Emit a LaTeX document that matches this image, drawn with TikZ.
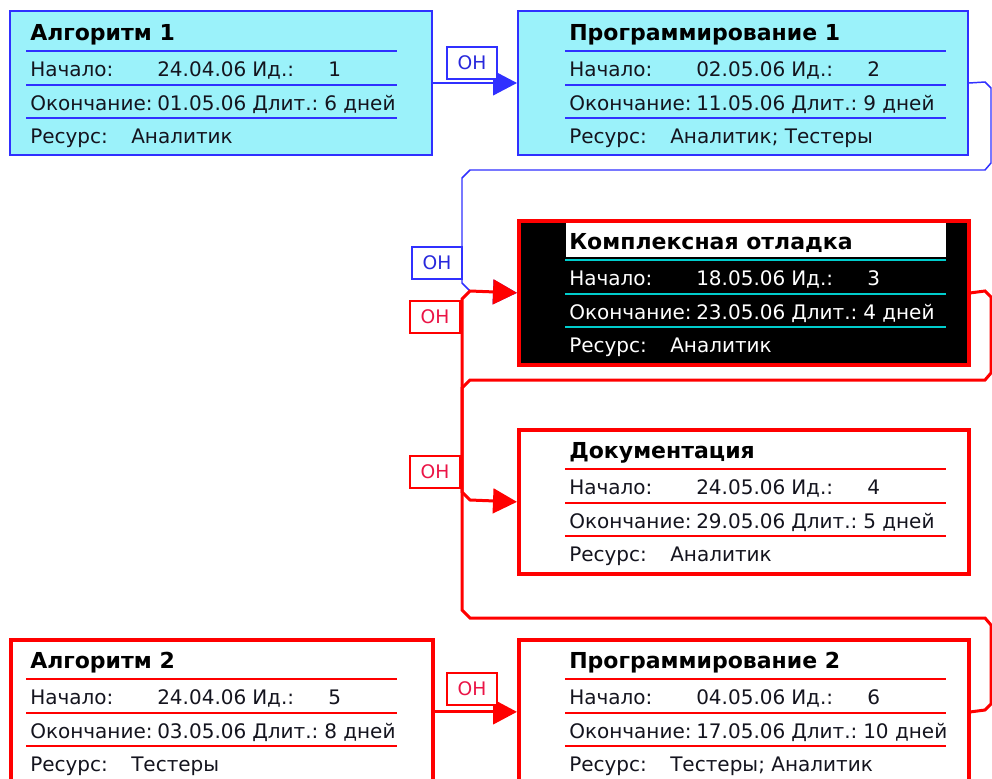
\documentclass[tikz,border=0pt]{standalone}
\usepackage{fontspec}
\setmainfont{DejaVu Sans}
\usetikzlibrary{arrows.meta}
\definecolor{pblue}{RGB}{48,48,255}
\definecolor{pred}{RGB}{255,0,0}
\definecolor{pcyan}{RGB}{155,242,250}
\definecolor{ptxt}{RGB}{20,20,30}
\definecolor{ohred}{RGB}{235,20,70}
\definecolor{ohblue}{RGB}{40,40,220}
\definecolor{lcyan}{RGB}{0,205,205}
\colorlet{rowtext}{ptxt}
\tikzset{
  taskL/.style={anchor=north west, inner sep=0pt, minimum width=422*0.75pt, minimum height=144*0.75pt},
  taskR/.style={anchor=north west, inner sep=0pt, minimum width=450*0.75pt, minimum height=144*0.75pt},
  bluebox/.style={draw=pblue, line width=1.5pt, fill=pcyan},
  redbox/.style={draw=pred, line width=2.8pt, fill=white},
  critbox/.style={draw=pred, line width=2.8pt, fill=black},
  titletext/.style={anchor=base west, inner sep=0pt, font=\fontsize{16.5}{19}\selectfont\bfseries, text=black},
  rowtxt/.style={anchor=base west, inner sep=0pt, font=\fontsize{15}{18}\selectfont, text=rowtext},
  sepline/.style={line width=1.5pt},
  ohlabel/.style={draw, fill=white, line width=1.1pt, minimum width=50*0.75pt, minimum height=32*0.75pt, inner sep=0pt, font=\fontsize{14}{17}\selectfont},
  bluelinkA/.style={draw=pblue, line width=1.5pt},
  bluelinkB/.style={draw=pblue, line width=1.1pt},
  redlink/.style={draw=pred, line width=2.25pt},
  tip/.style={-{Triangle[length=18pt,width=18.5pt]}},
}
% #1 name, #2 T (box top), #3 L (text left), #4 line right end, #5 line colour, #6 title
\newcommand\tdecor[6]{%
  \foreach \d in {41,75,108}{\draw[sepline,#5] (#3-4,#2+\d) -- (#4,#2+\d);}
  \node[titletext] (#1-t) at (#3,#2+30) {#6};
}
% #1 name, #2 L, #3 T, #4 start, #5 id, #6 end, #7 dur, #8 res
\newcommand\trows[8]{%
  \node[rowtxt] (#1-a1) at (#2,#3+66) {Начало:};
  \node[rowtxt] (#1-a2) at (#2+127,#3+66) {#4};
  \node[rowtxt] (#1-a3) at (#2+222,#3+66) {Ид.:};
  \node[rowtxt] (#1-a4) at (#2+298,#3+66) {#5};
  \node[rowtxt] (#1-b1) at (#2,#3+100) {Окончание:};
  \node[rowtxt] (#1-b2) at (#2+127,#3+100) {#6};
  \node[rowtxt] (#1-b3) at (#2+222,#3+100) {Длит.:};
  \node[rowtxt] (#1-b4) at (#2+294,#3+100) {#7};
  \node[rowtxt] (#1-c1) at (#2,#3+133) {Ресурс:};
  \node[rowtxt] (#1-c2) at (#2+101,#3+133) {#8};
}
\begin{document}
\begin{tikzpicture}[x=0.75pt,y=-0.75pt]
\path[use as bounding box] (0,0) rectangle (992,778);
\clip (0,0) rectangle (992,778);
\fill[white] (0,0) rectangle (992,778);

% task boxes
\node[taskL,bluebox] (b1) at (9,10) {};
\tdecor{b1}{10}{30}{397}{pblue}{Алгоритм 1}
\trows{b1}{30}{10}{24.04.06}{1}{01.05.06}{6 дней}{Аналитик}

\node[taskR,bluebox] (b2) at (517,10) {};
\tdecor{b2}{10}{569}{946}{pblue}{Программирование 1}
\trows{b2}{569}{10}{02.05.06}{2}{11.05.06}{9 дней}{Аналитик; Тестеры}

\node[taskR,critbox] (b3) at (517,219) {};
\node[fill=white, anchor=north west, inner sep=0pt, minimum width=380*0.75pt, minimum height=34*0.75pt] (b3-w) at (566,223) {};
\begingroup
\colorlet{rowtext}{white}
\tdecor{b3}{219}{569}{946}{lcyan}{Комплексная отладка}
\trows{b3}{569}{219}{18.05.06}{3}{23.05.06}{4 дней}{Аналитик}
\endgroup

\node[taskR,redbox] (b4) at (517,428) {};
\tdecor{b4}{428}{569}{946}{pred}{Документация}
\trows{b4}{569}{428}{24.05.06}{4}{29.05.06}{5 дней}{Аналитик}

\node[taskL,redbox] (b5) at (9,638) {};
\tdecor{b5}{638}{30}{397}{pred}{Алгоритм 2}
\trows{b5}{30}{638}{24.04.06}{5}{03.05.06}{8 дней}{Тестеры}

\node[taskR,redbox] (b6) at (517,638) {};
\tdecor{b6}{638}{569}{946}{pred}{Программирование 2}
\trows{b6}{569}{638}{04.05.06}{6}{17.05.06}{10 дней}{Тестеры; Аналитик}

% connectors
\draw[bluelinkA,tip] (b1.east) -- (b2.west);
\draw[bluelinkB,tip] (b2.east) -- (985,82) -- (991,88) -- (991,163) -- (985,170)
  -- (470,170) -- (462,178) -- (462,283) -- (470,291) -- (b3.west);
\draw[redlink,tip] (b3.east) -- (985,291) -- (991,297) -- (991,373) -- (985,380)
  -- (470,380) -- (462,388) -- (462,492) -- (470,500) -- (b4.west);
\draw[redlink,tip] (b6.east) -- (985,710) -- (991,704) -- (991,625) -- (985,618)
  -- (470,618) -- (462,610) -- (462,299) -- (470,291) -- (b3.west);
\draw[redlink,tip] (b5.east) -- (b6.west);

% labels
\node[ohlabel, draw=pblue, text=ohblue] (l1) at (472,63) {ОН};
\node[ohlabel, draw=pblue, text=ohblue] (l2) at (437,263) {ОН};
\node[ohlabel, draw=pred, text=ohred] (l3) at (435,317) {ОН};
\node[ohlabel, draw=pred, text=ohred] (l4) at (435,472) {ОН};
\node[ohlabel, draw=pred, text=ohred] (l5) at (472,689) {ОН};
\end{tikzpicture}
\end{document}
